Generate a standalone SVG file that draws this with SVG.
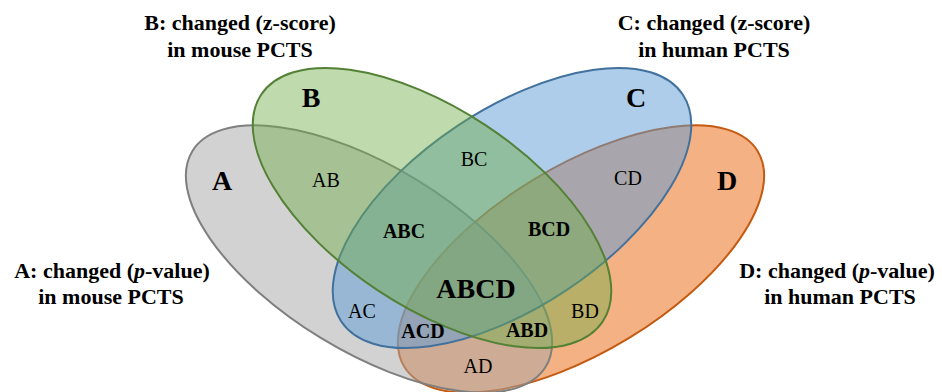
<svg xmlns="http://www.w3.org/2000/svg" width="942" height="392" viewBox="0 0 942 392">
<style>
text{font-family:"Liberation Serif","Times New Roman",serif;fill:#000;text-anchor:middle}
.t{font-size:22px;font-weight:bold}
.big{font-size:28px;font-weight:bold}
.r{font-size:20px}
.rb{font-size:20px;font-weight:bold}
.e{stroke-width:2}
</style>
<rect width="942" height="392" fill="#fff"/>
<g id="setD"><ellipse class="e" cx="0" cy="0" rx="207" ry="92.5" transform="translate(581,259) rotate(-31.4)" fill="#ed7d31" fill-opacity="0.6" stroke="#c55a11"/></g>
<g id="setA"><ellipse class="e" cx="0" cy="0" rx="207" ry="92.5" transform="translate(369,259) rotate(31.4)" fill="#a5a5a5" fill-opacity="0.5" stroke="#7f7f7f"/></g>
<g id="setC"><ellipse class="e" cx="0" cy="0" rx="205" ry="98.6" transform="translate(512,208) rotate(-33.6)" fill="#5b9bd5" fill-opacity="0.5" stroke="#41719c"/></g>
<g id="setB"><ellipse class="e" cx="0" cy="0" rx="205" ry="98.6" transform="translate(432,208) rotate(33.6)" fill="#70ad47" fill-opacity="0.45" stroke="#538135"/></g>
<g id="titles">
<text class="t" x="240" y="30">B: changed (z-score)</text>
<text class="t" x="240" y="57">in mouse PCTS</text>
<text class="t" x="714" y="30">C: changed (z-score)</text>
<text class="t" x="714" y="57">in human PCTS</text>
<text class="t" x="112" y="278">A: changed (<tspan font-style="italic">p</tspan>-value)</text>
<text class="t" x="111" y="304">in mouse PCTS</text>
<text class="t" x="837" y="278">D: changed (<tspan font-style="italic">p</tspan>-value)</text>
<text class="t" x="840" y="304">in human PCTS</text>
</g>
<g id="labels">
<text class="big" x="222" y="190">A</text>
<text class="big" x="311" y="107">B</text>
<text class="big" x="636" y="107">C</text>
<text class="big" x="727" y="190">D</text>
<text class="r" x="326" y="187">AB</text>
<text class="r" x="474" y="166">BC</text>
<text class="r" x="628" y="185">CD</text>
<text class="rb" x="404" y="238">ABC</text>
<text class="rb" x="549" y="236">BCD</text>
<text class="big" x="476" y="298">ABCD</text>
<text class="r" x="362" y="318">AC</text>
<text class="rb" x="423" y="338">ACD</text>
<text class="rb" x="527" y="337">ABD</text>
<text class="r" x="585" y="318">BD</text>
<text class="r" x="478" y="373">AD</text>
</g>
</svg>
